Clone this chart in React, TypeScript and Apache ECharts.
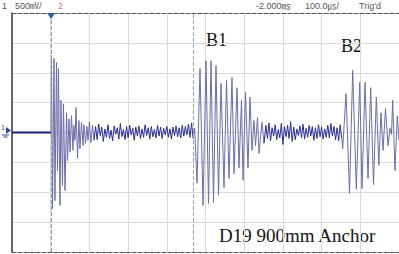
import React, { useEffect, useRef } from "react";
import * as echarts from "echarts";

// time in µs (100 µs/div), voltage in V (0.5 V/div)
const FLAT: [number, number][] = [[0, 0], [101, 0]];

const BURST_INITIAL: [number, number][] = [
  [101, 0], [102, 1.29], [104.7, -1.27], [108.5, 1.24], [111, -1.14], [115, 1.17], [117.6, -0.64],
  [120, 1.07], [124, -1.22], [126.6, 0.54], [130.5, -0.89], [133, 0.48], [137, -0.97],
  [141, 0.33], [143.4, -0.47], [147.3, 0.23], [150, -0.33], [153.8, 0.28], [157.6, -0.3],
  [160, 0.12], [162.8, -0.13], [165.4, 0.42], [169.3, -0.43], [173, 0.2], [175.7, -0.27],
  [179.6, 0.17], [183.5, -0.22], [186, 0.13], [190, -0.18], [193.8, 0.1], [196.4, -0.13],
  [200, 0.18], [204, -0.17], [208, 0.12], [212, -0.13],
];

const NOISE1_START = 216;
const NOISE_STEP = 4;
const NOISE1: number[] = [
  0.1, -0.12, 0.14, -0.05, 0.09, -0.15, 0.06, -0.08, 0.13, -0.1, 0.04, -0.14, 0.11, -0.03,
  0.08, -0.11, 0.15, -0.07, 0.05, -0.12, 0.1, -0.09, 0.12, -0.04, 0.07, -0.13, 0.09, -0.06,
  0.11, -0.1, 0.06, -0.08, 0.13, -0.05, 0.08, -0.11, 0.1, -0.07, 0.05, -0.09, 0.12, -0.06,
  0.09, -0.1, 0.07, -0.04, 0.1, -0.08, 0.06, -0.11, 0.09, -0.05, 0.11, -0.07, 0.08, -0.09,
  0.12, -0.06, 0.1, -0.04, 0.14, -0.08, 0.16, -0.1,
];

const ECHO_B1: [number, number][] = [
  [468, -0.1], [472, 0.07], [478, -0.85], [485.8, 1.07], [493.6, -1.22], [501.3, 1.2], [507.8, -1.19],
  [514.2, 1.2], [520.7, -1.17], [527.1, 1.12], [533.6, -1.05], [540.1, 0.82], [547.8, -0.92],
  [554.3, 0.87], [560.7, -0.77], [568.5, 0.92], [573.7, -0.69], [581.4, 0.75], [586.6, -0.59],
  [593, 0.54], [596.9, -0.8], [603.4, 0.67], [609.8, -0.59], [615, 0.59], [620.2, -0.3],
  [625.3, 0.2], [629.2, -0.22], [634.4, 0.25], [638.3, -0.35], [646, 0.17], [651.2, -0.18],
];

const NOISE2_START = 656;
const NOISE2: number[] = [
  0.12, -0.1, 0.16, -0.14, 0.08, -0.06, 0.13, -0.12, 0.05, -0.09, 0.15, -0.2, 0.1, -0.07,
  0.12, -0.1, 0.18, -0.15, 0.09, -0.12, 0.06, -0.05, 0.11, -0.09, 0.14, -0.11, 0.07, -0.08,
  0.12, -0.06, 0.1, -0.13, 0.08, -0.1, 0.13, -0.07, 0.09, -0.11, 0.06, -0.08, 0.12, -0.09,
  0.15, -0.06, 0.1, -0.12, 0.08, -0.14, 0.13, -0.1,
];

const ECHO_B2: [number, number][] = [
  [852, -0.1], [854.5, -0.27], [863.1, 0.65], [872.1, -1.02], [880.4, 1.04], [889.7, -0.95], [898.5, 0.84],
  [904.4, -0.94], [912.2, 0.84], [919.9, -0.77], [926.9, 0.75], [934.1, -0.87], [941.4, 0.59],
  [947.8, -0.55], [953.5, 0.33], [958.7, -0.3], [965.1, 0.4], [971.6, -0.22], [976.8, 0.07],
  [980.6, -0.03], [983.7, 0.54], [989.7, -0.64], [995.6, 0.28], [1000, -0.13],
];

const TRIGGER_TIME = 101;
const CURSOR_TIME = 468;

export default function App() {
  const ref = useRef<HTMLDivElement>(null);
  useEffect(() => {
    if (!ref.current) return;
    const chart = echarts.init(ref.current, null, { renderer: "svg" });
    const noise1 = [BURST_INITIAL[BURST_INITIAL.length - 1], ...NOISE1.map((v, i) => [NOISE1_START + i * NOISE_STEP, v])];
    const noise2 = [ECHO_B1[ECHO_B1.length - 1], ...NOISE2.map((v, i) => [NOISE2_START + i * NOISE_STEP, v])];
    const burstColor = "#6d6dab";
    const noiseColor = "#2b2b98";
    const line = (data: any, color: string, width = 1) => ({
      type: "line", data, showSymbol: false, silent: true,
      lineStyle: { color, width },
    });
    const hdr = { fontFamily: "Liberation Sans, Noto Sans CJK JP", fontSize: 9, fill: "#555" };
    const serif = { fontFamily: "Liberation Serif", fill: "#151515" };
    chart.setOption({
      animation: false,
      backgroundColor: "#fff",
      grid: { left: 12, top: 13, right: 0, bottom: 2 },
      xAxis: [
        {
          type: "value", min: 0, max: 1000, interval: 100,
          axisLine: { show: true, onZero: false, lineStyle: { color: "#555", type: "dashed", width: 1 } },
          axisTick: { show: false }, axisLabel: { show: false },
          splitLine: { show: true, lineStyle: { color: "#dadada", width: 1 } },
        },
        {
          type: "value", position: "top", min: 0, max: 1000, interval: 100,
          axisLine: { show: true, onZero: false, lineStyle: { color: "#555", type: "dashed", width: 1 } },
          axisTick: { show: false }, axisLabel: { show: false }, splitLine: { show: false },
        },
      ],
      yAxis: {
        type: "value", min: -2, max: 2, interval: 0.5,
        axisLine: { show: true, onZero: false, lineStyle: { color: "#3a3a3a", width: 1.5 } },
        axisTick: { show: false }, axisLabel: { show: false },
        splitLine: { show: true, lineStyle: { color: "#dadada", width: 1 } },
      },
      series: [
        {
          ...line(FLAT, "#1c1c86", 2),
          markLine: {
            symbol: "none", silent: true, label: { show: false },
            data: [
              { xAxis: TRIGGER_TIME, lineStyle: { color: "#8aa0b8", type: "dashed", width: 1 } },
              { xAxis: CURSOR_TIME, lineStyle: { color: "#9aa6ae", type: "dashed", width: 1 } },
            ],
          },
          markPoint: {
            silent: true, label: { show: false },
            data: [
              {
                coord: [TRIGGER_TIME, 2], symbol: "triangle", symbolRotate: 180,
                symbolSize: [8, 6], symbolOffset: [0, 3], itemStyle: { color: "#2a5fa8" },
              },
            ],
          },
        },
        line(BURST_INITIAL, burstColor),
        line(noise1, noiseColor),
        line(ECHO_B1, burstColor),
        line(noise2, noiseColor),
        line(ECHO_B2, burstColor),
      ],
      graphic: [
        { type: "text", left: 2, top: 1, style: { ...hdr, text: "1" } },
        { type: "text", left: 15, top: 1, style: { ...hdr, text: "500㎷/" } },
        { type: "text", left: 58, top: 1, style: { ...hdr, fill: "#c77aa6", text: "2" } },
        { type: "text", left: 256, top: 1, style: { ...hdr, text: "-2.000㎳" } },
        { type: "text", left: 305, top: 1, style: { ...hdr, text: "100.0㎲/" } },
        { type: "text", left: 359, top: 1, style: { ...hdr, text: "Trig'd" } },
        { type: "text", left: 1, top: 124, style: { fontFamily: "Liberation Sans", fontSize: 7, fill: "#2a4fa0", text: "1" } },
        { type: "polygon", shape: { points: [[6, 127], [11, 130.5], [6, 134]] }, style: { fill: "#2a4fa0" } },
        { type: "line", shape: { x1: 2, y1: 135, x2: 9, y2: 135 }, style: { stroke: "#2a4fa0", lineWidth: 1 } },
        { type: "line", shape: { x1: 3.5, y1: 137, x2: 7.5, y2: 137 }, style: { stroke: "#2a4fa0", lineWidth: 1 } },
        { type: "text", left: 206, top: 31, style: { ...serif, fontSize: 18, text: "B1" } },
        { type: "text", left: 341, top: 37, style: { ...serif, fontSize: 18, text: "B2" } },
        { type: "text", left: 219, top: 226, style: { ...serif, fontSize: 19, text: "D19 900mm Anchor" } },
      ],
    });
    return () => chart.dispose();
  }, []);
  return (
    <div
      ref={ref}
      style={{ position: "fixed", left: 0, top: 0, width: 399, height: 254, background: "#fff" }}
    />
  );
}
